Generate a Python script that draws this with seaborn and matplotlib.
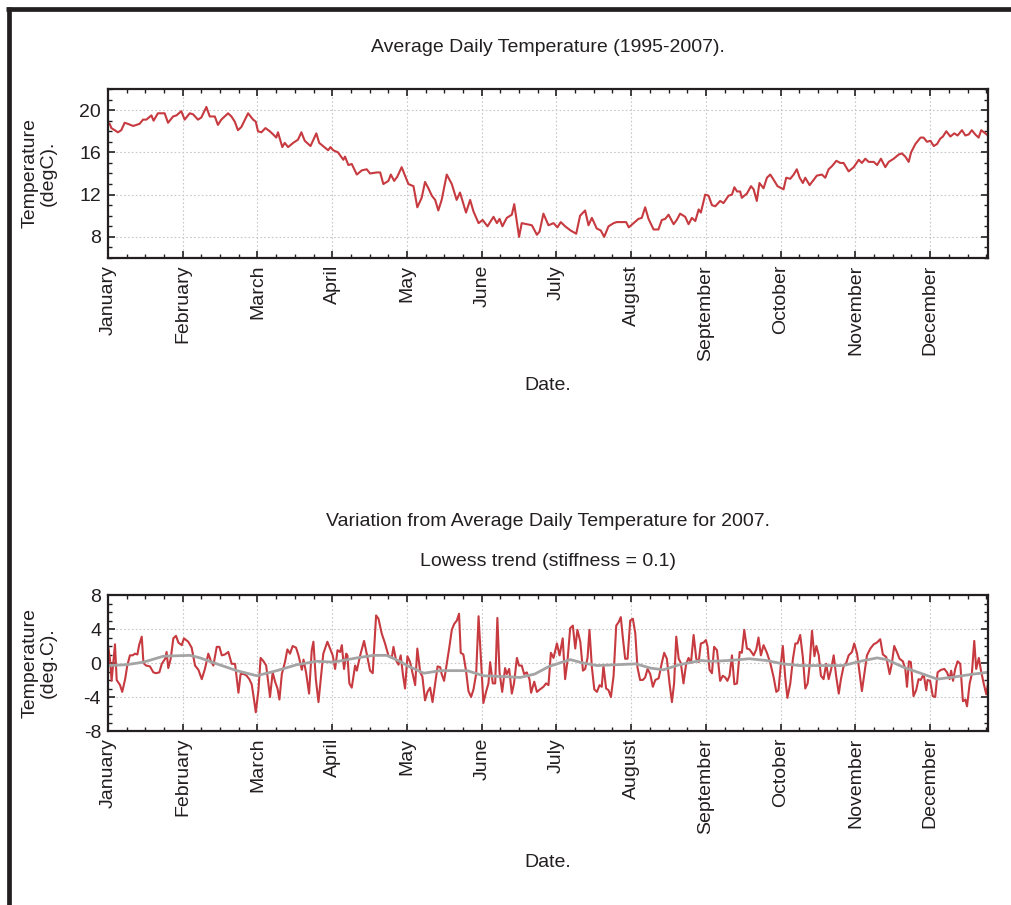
import matplotlib
matplotlib.use("Agg")
import matplotlib.pyplot as plt
from matplotlib.ticker import FixedLocator, MultipleLocator
from matplotlib.lines import Line2D
import seaborn as sns

# month labels on the day axis (one label every 31 days)
months = ["January", "February", "March", "April", "May", "June", "July",
          "August", "September", "October", "November", "December"]

# (day of year, average temperature degC)
avg_pts = [
    (0, 18.8), (0.7, 18.7), (1.4, 18.3), (2.8, 18.1), (4.1, 17.9), (5.5, 18.1), (6.9, 18.8),
    (8.3, 18.7), (10.4, 18.5), (11.8, 18.6), (13.1, 18.7), (14.5, 19.1), (15.9, 19.1),
    (18.0, 19.5), (18.9, 19.0), (20.7, 19.7), (23.5, 19.7), (24.9, 18.8), (27.0, 19.4),
    (28.4, 19.5), (30.4, 19.9), (31.8, 19.1), (33.9, 19.7), (35.3, 19.6), (37.3, 19.1),
    (38.7, 19.3), (40.8, 20.3), (42.2, 19.4), (44.3, 19.4), (45.6, 18.6), (47.0, 19.1),
    (49.8, 19.7), (51.2, 19.4), (52.6, 18.9), (53.9, 18.1), (55.3, 18.4), (58.1, 19.7),
    (60.2, 19.1), (61.3, 18.9), (62.2, 18.0), (63.6, 17.9), (65.3, 18.3), (67.1, 18.0),
    (68.5, 17.7), (69.8, 17.4), (70.5, 17.9), (72.3, 16.5), (73.3, 16.9), (74.7, 16.5),
    (76.8, 16.9), (78.8, 17.2), (80.2, 17.9), (81.6, 17.1), (84.0, 16.6), (86.4, 17.8),
    (87.6, 16.9), (89.2, 16.6), (91.3, 16.2), (92.3, 16.5), (93.4, 16.2), (95.4, 16.0),
    (97.6, 15.3), (98.3, 15.6), (99.7, 14.8), (101.1, 14.9), (103.2, 13.9), (105.3, 14.3),
    (107.3, 14.4), (108.7, 14.0), (111.5, 14.1), (112.9, 14.1), (114.2, 13.0), (116.3, 13.3),
    (117.3, 13.9), (118.7, 13.3), (120.0, 13.7), (121.8, 14.6), (123.2, 13.8), (124.6, 13.0),
    (126.7, 12.8), (128.3, 10.8), (130.1, 11.7), (131.5, 13.2), (132.9, 12.6), (134.3, 11.9),
    (135.7, 11.5), (137.0, 10.5), (138.4, 11.5), (140.5, 13.9), (142.6, 13.0), (144.6, 11.5),
    (146.0, 12.2), (148.5, 10.3), (150.2, 11.5), (151.6, 10.4), (153.7, 9.3), (155.4, 9.6),
    (157.4, 9.0), (159.9, 9.9), (161.3, 9.3), (162.4, 9.7), (163.6, 9.0), (165.4, 9.8),
    (167.5, 10.1), (168.5, 11.1), (170.5, 8.0), (171.6, 9.3), (173.7, 9.2), (175.8, 9.1),
    (177.9, 8.2), (179.0, 8.5), (180.6, 10.2), (182.7, 9.1), (184.8, 9.3), (186.4, 8.9),
    (187.8, 9.4), (189.6, 9.0), (191.9, 8.6), (194.2, 8.3), (195.8, 10.0), (197.9, 10.5),
    (199.3, 9.1), (200.7, 9.8), (202.7, 8.8), (204.4, 8.6), (205.8, 8.0), (207.6, 9.0),
    (209.7, 9.3), (211.0, 9.4), (213.1, 9.4), (214.9, 9.4), (216.0, 8.9), (218.0, 9.3),
    (220.0, 9.7), (221.4, 9.8), (222.8, 10.8), (224.2, 9.7), (226.3, 8.7), (228.3, 8.7),
    (229.7, 9.6), (231.1, 9.7), (232.5, 10.1), (234.6, 9.2), (235.9, 9.6), (237.3, 10.2),
    (239.4, 9.9), (240.8, 9.2), (242.2, 9.8), (243.6, 9.5), (245.0, 10.6), (245.9, 10.3),
    (247.7, 12.0), (249.1, 11.9), (250.5, 11.0), (251.9, 10.9), (253.9, 11.4), (255.3, 11.2),
    (257.4, 11.9), (258.8, 12.0), (259.8, 12.7), (260.9, 12.3), (262.2, 12.3), (262.9, 11.7),
    (265.0, 12.1), (266.7, 12.8), (267.8, 12.5), (269.1, 11.4), (270.2, 13.1), (271.9, 12.6),
    (273.3, 13.6), (274.7, 13.9), (276.1, 13.4), (277.7, 12.8), (280.2, 12.5), (281.3, 13.6),
    (283.0, 13.5), (284.4, 13.9), (285.7, 14.4), (286.9, 13.6), (288.2, 13.1), (289.2, 13.6),
    (291.0, 12.9), (292.7, 13.4), (294.0, 13.8), (296.1, 13.9), (297.5, 13.6), (298.9, 14.4),
    (300.3, 14.7), (302.1, 15.2), (303.7, 15.0), (305.1, 15.0), (307.2, 14.2), (309.3, 14.6),
    (311.4, 15.3), (312.7, 15.0), (314.1, 15.4), (315.5, 15.1), (317.6, 15.1), (319.0, 14.8),
    (320.6, 15.4), (322.4, 14.6), (323.8, 15.1), (325.9, 15.4), (328.0, 15.8), (329.3, 15.9),
    (330.7, 15.6), (332.1, 15.1), (333.1, 16.0), (334.9, 16.8), (337.0, 17.4), (338.3, 17.4),
    (339.7, 17.0), (341.1, 17.1), (342.5, 16.6), (343.9, 16.8), (345.2, 17.3), (346.3, 17.5),
    (347.7, 18.0), (349.4, 17.5), (351.0, 17.8), (352.4, 17.6), (354.2, 18.1), (355.6, 17.6),
    (357.0, 17.7), (358.3, 18.1), (359.7, 17.7), (361.1, 17.4), (362.2, 18.1), (363.9, 17.8),
    (365.0, 17.6),
]

# (day of year, 2007 deviation from the average, degC)
dev_pts = [
    (0.1, 1.9), (0.8, 0.5), (1.5, -2.1), (2.2, 0.1), (2.9, 2.2), (3.6, -2.0), (5.0, -2.6),
    (5.9, -3.4), (7.1, -1.9), (8.0, -0.3), (9.1, 0.9), (10.2, 0.9), (11.2, 1.1), (12.2, 1.0),
    (12.9, 2.1), (14.0, 3.1), (14.7, 0.0), (15.8, -0.3), (17.4, -0.4), (18.8, -1.1),
    (19.9, -1.2), (21.3, -1.1), (22.3, -0.1), (23.7, 0.5), (24.3, 1.3), (25.0, -0.6),
    (26.0, 0.5), (27.1, 2.9), (28.2, 3.2), (29.2, 2.4), (30.6, 2.1), (31.5, 2.9), (33.3, 2.5),
    (34.7, 1.8), (36.1, -0.3), (37.5, -0.8), (38.9, -1.9), (40.2, -0.7), (41.6, 1.1),
    (42.6, 0.3), (43.7, -0.3), (45.1, 1.9), (46.2, 1.9), (47.2, 0.9), (48.5, 1.0), (49.9, 1.3),
    (51.3, -0.1), (52.7, -0.1), (54.1, -3.5), (55.0, -1.3), (56.4, -1.3), (57.5, -1.5),
    (58.6, -1.9), (59.6, -2.5), (60.3, -3.8), (61.3, -5.8), (62.4, -3.2), (63.3, 0.6),
    (64.5, 0.2), (65.6, -0.3), (67.2, -4.0), (68.3, -1.1), (69.3, -2.2), (70.3, -3.0),
    (71.1, -4.3), (72.1, -1.3), (73.4, 0.1), (74.4, 1.6), (75.5, 1.1), (76.6, 2.0), (78.0, 1.8),
    (79.0, 0.9), (80.4, -0.8), (81.1, 0.4), (82.2, -1.2), (83.4, -3.6), (84.5, 1.5), (85.2, 2.5),
    (86.2, -1.9), (87.3, -4.6), (88.2, -2.0), (89.3, 1.1), (91.0, 2.5), (92.4, 1.5), (93.2, 0.9),
    (94.2, -0.7), (95.2, 1.5), (96.3, 1.3), (97.0, 2.1), (97.9, -0.7), (98.8, 1.1), (99.3, 0.9),
    (100.1, -2.4), (101.1, -2.9), (102.5, -0.3), (103.2, -0.9), (104.6, 0.9), (106.2, 2.6),
    (107.3, 1.1), (108.7, -0.9), (109.8, -1.2), (111.2, 5.6), (112.2, 5.2), (113.5, 3.5),
    (114.9, 2.3), (116.3, 0.9), (117.7, 0.6), (118.4, 1.9), (119.5, 0.3), (120.5, -0.2),
    (121.4, 0.9), (122.3, -1.3), (123.2, -3.0), (124.2, 0.8), (125.3, 0.1), (126.4, -1.3),
    (127.4, -2.6), (128.3, 1.7), (129.5, -1.1), (130.4, -1.6), (131.5, -4.4), (132.5, -3.4),
    (133.6, -2.9), (134.6, -4.6), (135.7, -2.4), (136.7, -0.4), (137.8, -0.5), (138.4, -1.3),
    (139.4, -2.1), (140.5, -0.1), (141.6, 1.9), (142.6, 3.9), (143.6, 4.6), (144.7, 5.0),
    (145.6, 5.8), (146.3, 1.2), (147.4, 1.0), (148.5, -0.9), (149.5, -3.3), (150.6, -4.0),
    (151.6, -3.1), (152.7, -1.3), (153.7, 5.5), (154.6, 0.9), (155.7, -4.7), (156.8, -3.4),
    (157.8, -2.4), (158.5, 0.1), (159.6, -2.4), (160.6, -2.4), (161.5, 5.3), (162.4, -1.1),
    (163.5, -3.4), (164.7, -0.6), (165.4, -1.3), (166.4, -0.7), (167.5, -3.6), (168.4, -2.4),
    (169.6, 0.6), (170.5, -0.3), (171.6, -0.3), (172.6, -1.3), (173.7, -1.1), (174.8, -1.9),
    (175.5, -3.5), (176.8, -2.2), (177.9, -3.4), (179.2, -3.1), (180.6, -2.8), (181.7, -2.4),
    (182.7, -2.6), (183.7, 1.2), (184.8, 0.6), (186.2, 2.3), (187.3, 0.9), (188.6, 2.9),
    (189.6, -1.9), (190.6, 0.3), (191.7, 4.1), (192.8, 4.4), (193.8, 1.7), (194.7, 3.9),
    (195.9, 2.5), (197.0, -0.9), (197.9, -0.7), (198.9, 0.6), (199.7, 3.9), (200.7, -0.5),
    (201.7, -3.1), (202.8, -3.4), (203.9, -2.6), (204.8, -2.8), (205.5, -0.3), (206.6, -3.0),
    (207.6, -3.2), (208.6, -4.0), (209.7, -1.5), (210.8, 4.4), (211.8, 4.8), (212.7, 5.4),
    (213.5, 3.1), (214.5, 0.5), (215.5, 0.5), (216.6, 5.0), (217.7, 5.2), (218.7, 3.5),
    (219.6, -0.5), (220.7, -2.0), (221.8, -2.0), (222.8, -1.7), (223.8, -0.7), (224.9, -1.3),
    (226.0, -2.8), (227.0, -2.0), (228.4, -1.8), (229.7, 0.0), (230.7, 1.2), (231.8, 0.5),
    (232.9, -2.4), (233.9, -4.6), (234.8, -2.4), (235.7, 3.1), (236.7, 0.5), (237.6, 0.0),
    (238.7, -2.4), (239.8, -0.1), (240.8, 0.6), (241.8, 0.0), (242.9, 3.3), (244.0, 0.5),
    (245.0, 0.1), (245.9, 2.3), (247.0, 2.4), (248.0, 2.7), (248.7, 1.9), (249.5, -0.8),
    (250.5, -1.2), (251.4, 1.9), (252.6, 1.5), (253.9, -2.1), (255.0, -1.5), (256.0, -1.7),
    (256.9, -2.1), (257.8, -1.5), (258.8, 0.9), (259.8, -2.5), (260.9, -2.4), (262.0, 1.3),
    (262.9, 1.2), (263.9, 3.9), (265.0, 1.7), (266.1, 1.6), (267.8, 0.9), (268.9, 1.6),
    (269.8, 3.0), (270.8, 0.9), (271.9, 2.1), (273.3, 1.2), (274.7, 0.0), (276.1, -1.7),
    (277.2, -3.4), (278.1, -3.2), (279.1, -0.1), (279.9, 2.0), (280.9, -1.7), (281.8, -4.1),
    (283.0, -2.4), (284.1, 0.5), (285.1, 2.3), (286.0, 2.3), (287.1, 3.3), (288.2, 0.7),
    (289.2, -3.0), (290.2, -2.4), (291.0, -0.3), (292.0, 3.8), (293.0, 0.8), (293.8, 2.0),
    (294.8, 0.9), (295.7, -1.5), (296.8, -1.9), (297.9, -0.1), (298.9, -1.9), (299.9, -0.8),
    (301.0, 0.9), (302.0, -1.5), (303.1, -3.6), (304.0, -1.9), (305.1, -0.4), (306.2, 0.0),
    (307.2, 0.9), (308.6, 1.3), (309.5, 2.3), (310.7, 1.1), (311.8, -1.3), (312.7, -3.3),
    (313.7, -1.3), (314.8, 0.9), (316.2, 1.7), (317.6, 2.2), (318.9, 2.4), (320.3, 2.8),
    (321.4, 1.0), (322.8, 0.7), (324.2, -1.3), (325.1, -0.1), (326.1, 2.0), (327.2, 1.3),
    (328.3, 0.5), (329.7, 0.2), (330.7, -0.7), (331.4, -2.8), (332.2, 0.2), (333.0, 0.1),
    (334.1, -3.9), (335.2, -3.2), (336.2, -1.9), (337.1, -2.0), (338.3, -1.3), (339.4, -3.2),
    (339.9, -2.0), (341.0, -2.1), (342.1, -3.9), (343.1, -4.0), (344.1, -1.1), (345.5, -0.8),
    (346.9, -0.7), (348.0, -1.1), (349.1, -1.9), (349.7, -0.9), (350.5, -2.1), (351.4, -0.7),
    (352.4, 0.2), (353.5, -0.1), (354.6, -4.5), (355.6, -4.3), (356.3, -5.1), (357.4, -2.4),
    (358.3, -1.3), (359.3, 2.6), (360.1, -0.7), (361.2, 0.6), (362.1, -0.9), (363.2, -2.4),
    (364.3, -3.7), (365.0, -2.4),
]

# (day of year, lowess trend of the deviation)
trend_pts = [
    (0, -0.3), (7.7, -0.2), (14.7, 0.1), (23.0, 0.8), (34.0, 0.9), (38.2, 0.6), (45.1, -0.1),
    (53.4, -0.9), (61.7, -1.5), (70.0, -0.9), (78.3, -0.2), (86.6, 0.2), (93.5, 0.1),
    (103.2, 0.6), (110.1, 0.9), (115.6, 0.9), (121.0, 0.2), (124.0, -0.3), (131.0, -1.2),
    (138.0, -0.9), (149.0, -0.9), (155.7, -1.5), (164.0, -1.6), (171.0, -1.7), (177.0, -1.3),
    (183.0, -0.4), (191.7, 0.4), (197.0, 0.0), (202.8, -0.3), (211.0, -0.2), (219.0, -0.1),
    (225.0, -0.6), (230.4, -0.8), (237.0, -0.2), (246.0, 0.3), (250.0, 0.2), (258.0, 0.3),
    (266.0, 0.5), (273.0, 0.3), (280.0, -0.1), (287.0, -0.3), (297.0, -0.3), (305.0, -0.3),
    (312.0, 0.2), (319.0, 0.6), (323.0, 0.4), (330.0, -0.5), (338.0, -1.3), (344.0, -1.9),
    (352.0, -1.6), (359.0, -1.3), (365.0, -1.1),
]

avg_days, avg_temp = zip(*avg_pts)
dev_days, dev_temp = zip(*dev_pts)
trend_days, trend_temp = zip(*trend_pts)

sns.set_style("ticks")
plt.rcParams["font.family"] = ["Liberation Sans", "DejaVu Sans"]
plt.rcParams["axes.unicode_minus"] = False

INK = "#231f20"
RED = "#c63a40"
GREY = "#a4a4a4"

fig = plt.figure(figsize=(10.12, 9.05), dpi=100)
W, H = 1012, 905


def box(left, top, right, bottom):
    return [left / W, 1 - bottom / H, (right - left) / W, (bottom - top) / H]


ax1 = fig.add_axes(box(108, 89, 988, 258))
ax2 = fig.add_axes(box(108, 595, 988, 731))

sns.lineplot(x=list(avg_days), y=list(avg_temp), ax=ax1, color=RED, lw=1.5,
             estimator=None, errorbar=None)
sns.lineplot(x=list(dev_days), y=list(dev_temp), ax=ax2, color=RED, lw=1.5,
             estimator=None, errorbar=None)
sns.lineplot(x=list(trend_days), y=list(trend_temp), ax=ax2, color=GREY, lw=2.0,
             estimator=None, errorbar=None)

month_ticks = [31 * i for i in range(len(months))]
for ax, ylim in [(ax1, (6, 22)), (ax2, (-8, 8))]:
    ax.set_xlim(0, 365)
    ax.set_ylim(*ylim)
    ax.xaxis.set_major_locator(FixedLocator(month_ticks))
    ax.xaxis.set_minor_locator(MultipleLocator(31 / 4))
    ax.set_xticklabels(months, rotation=90, va="top", ha="center", fontsize=14, color=INK)
    ax.yaxis.set_major_locator(MultipleLocator(4))
    ax.yaxis.set_minor_locator(MultipleLocator(1))
    ax.tick_params(which="both", direction="in", top=True, right=True, colors=INK,
                   labelsize=14, pad=5)
    ax.tick_params(which="major", length=5, width=1.2)
    ax.tick_params(which="minor", length=3, width=1)
    ax.grid(True, which="major", ls=(0, (1.5, 2)), color="#c8c8c8", lw=0.8)
    for s in ax.spines.values():
        s.set_color(INK)
        s.set_linewidth(1.6)
    ax.set_xlabel("Date.", fontsize=14, color=INK)

ax1.set_yticks([8, 12, 16, 20])
ax2.set_yticks([-8, -4, 0, 4, 8])

ax1.set_ylabel("Temperature\n(degC).", fontsize=14, color=INK, linespacing=1.1)
ax2.set_ylabel("Temperature\n(deg.C).", fontsize=14, color=INK, linespacing=1.1)
ax1.yaxis.set_label_coords(-0.058, 0.5)
ax2.yaxis.set_label_coords(-0.058, 0.5)
ax1.xaxis.set_label_coords(0.5, (258 - 377) / 169)
ax2.xaxis.set_label_coords(0.5, (731 - 854) / 136)

ax1.text(0.5, (258 - 47) / 169, "Average Daily Temperature (1995-2007).",
         transform=ax1.transAxes, ha="center", va="center", fontsize=14, color=INK)
ax2.text(0.5, (731 - 522) / 136, "Variation from Average Daily Temperature for 2007.",
         transform=ax2.transAxes, ha="center", va="center", fontsize=14, color=INK)
ax2.text(0.5, (731 - 561) / 136, "Lowess trend (stiffness = 0.1)",
         transform=ax2.transAxes, ha="center", va="center", fontsize=14, color=INK)

# page frame: thick rule along the top and left edges
fig.add_artist(Line2D([6 / W, 1], [1 - 9 / H, 1 - 9 / H], color=INK, lw=3.4,
                      solid_capstyle="butt"))
fig.add_artist(Line2D([8.5 / W, 8.5 / W], [1 - 7 / H, 0], color=INK, lw=3.4,
                      solid_capstyle="butt"))

fig.savefig("out.png", dpi=100)
